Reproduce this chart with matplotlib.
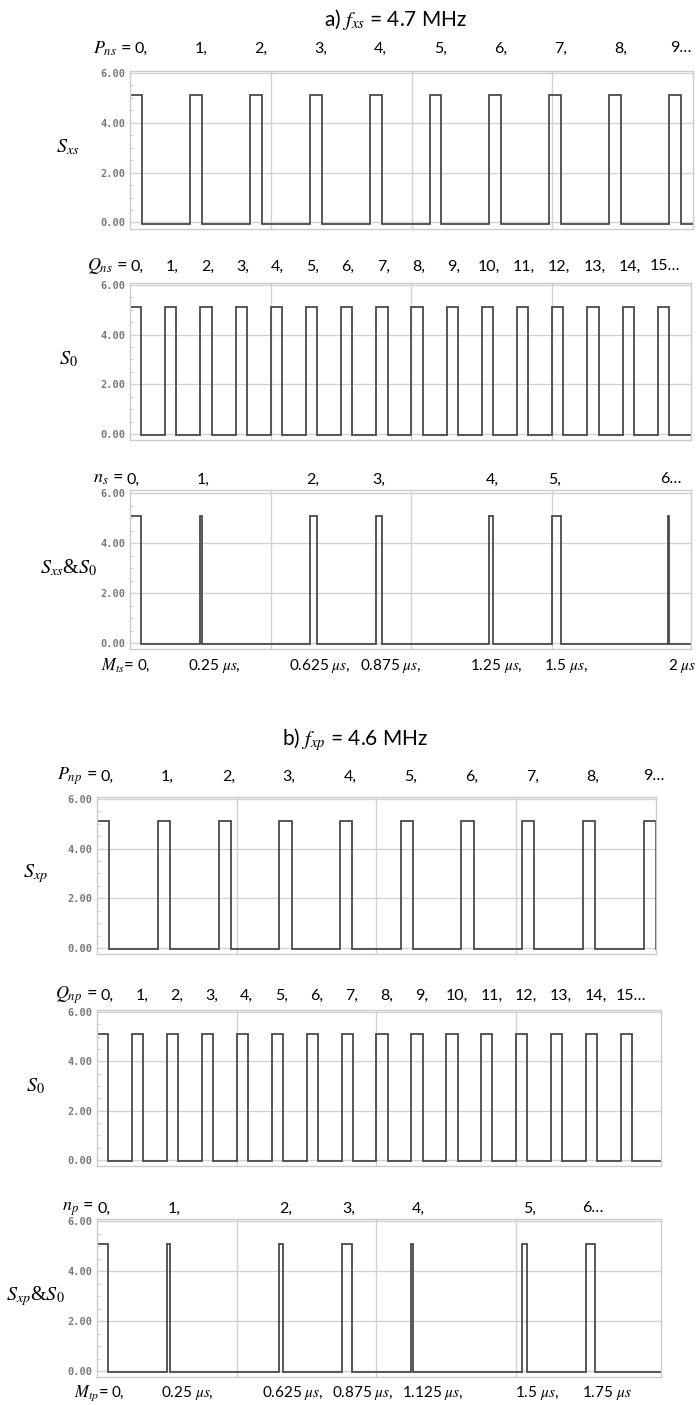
import matplotlib
matplotlib.use('Agg')
import matplotlib.pyplot as plt
from matplotlib.transforms import blended_transform_factory

plt.rcParams['font.family'] = ['Lato', 'DejaVu Sans']
plt.rcParams['mathtext.fontset'] = 'stix'

HIGH = 5.1
LOW = -0.05

# a) f_xs = 4.7 MHz  (edge times in microseconds)
sxs_rise = [0.0, 0.213, 0.426, 0.638, 0.851, 1.064, 1.277, 1.489, 1.702, 1.915]
sxs_fall = [0.043, 0.255, 0.468, 0.681, 0.894, 1.106, 1.319, 1.532, 1.745, 1.957]
# S0 clock, same in a) and b)
s0_rise = [0.0, 0.125, 0.25, 0.375, 0.5, 0.625, 0.75, 0.875,
           1.0, 1.125, 1.25, 1.375, 1.5, 1.625, 1.75, 1.875]
s0_fall = [0.04, 0.165, 0.29, 0.415, 0.54, 0.665, 0.79, 0.915,
           1.04, 1.165, 1.29, 1.415, 1.54, 1.665, 1.79, 1.915]
ands_rise = [0.0, 0.25, 0.638, 0.875, 1.277, 1.5, 1.912]
ands_fall = [0.04, 0.255, 0.665, 0.894, 1.29, 1.532, 1.916]
mts_vals = [0, 0.25, 0.625, 0.875, 1.25, 1.5, 2.0]

# b) f_xp = 4.6 MHz
sxp_rise = [0.0, 0.217, 0.435, 0.652, 0.870, 1.087, 1.304, 1.522, 1.739, 1.957]
sxp_fall = [0.043, 0.261, 0.478, 0.696, 0.913, 1.130, 1.348, 1.565, 1.783, 2.0]
andp_rise = [0.0, 0.25, 0.652, 0.875, 1.125, 1.522, 1.75]
andp_fall = [0.04, 0.261, 0.665, 0.913, 1.130, 1.54, 1.783]
mtp_vals = [0, 0.25, 0.625, 0.875, 1.125, 1.5, 1.75]

p_labels = ['0,', '1,', '2,', '3,', '4,', '5,', '6,', '7,', '8,', '9…']
q_labels = ['0,', '1,', '2,', '3,', '4,', '5,', '6,', '7,', '8,', '9,',
            '10,', '11,', '12,', '13,', '14,', '15…']
n_labels = ['0,', '1,', '2,', '3,', '4,', '5,', '6…']
mts_labels = ['0,', r'0.25 $\mu s$,', r'0.625 $\mu s$,', r'0.875 $\mu s$,',
              r'1.25 $\mu s$,', r'1.5 $\mu s$,', r'2 $\mu s$']
mtp_labels = ['0,', r'0.25 $\mu s$,', r'0.625 $\mu s$,', r'0.875 $\mu s$,',
              r'1.125 $\mu s$,', r'1.5 $\mu s$,', r'1.75 $\mu s$']
yticks = [0, 2, 4, 6]

W, H = 698, 1405
LINE = '#4a4a4a'
GRID = '#d2d2d2'
LABEL_FS = 11.5


def trace(rise, fall, tend):
    x, y = [0.0], [LOW]
    for r, f in zip(rise, fall):
        x += [r, r, f, f]
        y += [LOW, HIGH, HIGH, LOW]
    x.append(tend)
    y.append(LOW)
    return x, y


def panel(box, xmax, rise, fall, ylab):
    left, top, right, bottom = box
    ax = fig.add_axes([left / W, 1 - bottom / H, (right - left) / W, (bottom - top) / H])
    ax.set_xlim(0, xmax)
    ax.set_ylim(-0.25, 6.1)
    ax.set_xticks([0.5, 1.0, 1.5])
    ax.set_yticks(yticks, labels=['%.2f' % v for v in yticks],
                  fontfamily='DejaVu Sans Mono', fontweight='bold', fontsize=7.5, color='#7a7a7a')
    ax.tick_params(axis='x', length=0, labelbottom=False)
    ax.tick_params(axis='y', length=0, pad=3)
    ax.set_yticks([v / 2 for v in range(0, 12)], minor=True)
    ax.tick_params(axis='y', which='minor', direction='in', length=2, color='#c0c0c0')
    ax.grid(True, color=GRID, lw=1)
    ax.set_axisbelow(True)
    for s in ax.spines.values():
        s.set_color('#cccccc')
        s.set_linewidth(1)
    x, y = trace(rise, fall, xmax)
    ax.plot(x, y, color=LINE, lw=1.3, solid_joinstyle='miter')
    tr = blended_transform_factory(ax.transAxes, ax.transData)
    ax.text(-0.11, 3.0, ylab, transform=tr, ha='center', va='center', fontsize=14.5,
            family=['Liberation Serif', 'DejaVu Serif'])
    return ax


def row_labels(ax, times, labels, prefix, off, dy, below=False, fs=LABEL_FS, pfs=13):
    tr = blended_transform_factory(ax.transData, ax.transAxes)
    yy = 0 if below else 1
    sign = -1 if below else 1
    for t, lab in zip(times, labels):
        ax.annotate(lab, xy=(t + off, yy), xycoords=tr, xytext=(0, sign * dy * 0.72),
                    textcoords='offset points', ha='center', va='center', fontsize=fs)
    ax.annotate(prefix, xy=(times[0] + off, yy), xycoords=tr, xytext=(-7, sign * dy * 0.72),
                textcoords='offset points', ha='right', va='center', fontsize=pfs)


fig = plt.figure(figsize=(W / 100, H / 100), dpi=100)

fig.text(396 / W, 1 - 20 / H, r'a) $f_{xs}$ = 4.7 MHz', ha='center', va='center', fontsize=15)
a1 = panel((130, 70.5, 693, 228.7), 2.0, sxs_rise, sxs_fall, r'$S_{xs}$')
row_labels(a1, sxs_rise, p_labels, r'$P_{ns}$ =', 0.04, 22)
a2 = panel((130, 282.5, 691, 440.2), 1.993, s0_rise, s0_fall, r'$S_0$')
row_labels(a2, s0_rise, q_labels, r'$Q_{ns}$ =', 0.025, 16)
a3 = panel((130, 490.5, 691, 649.3), 1.993, ands_rise, ands_fall, r'$S_{xs}$&$S_0$')
row_labels(a3, ands_rise, n_labels, r'$n_s$ =', 0.01, 11)
row_labels(a3, [min(v, t) for v, t in zip(mts_vals, ands_rise)], mts_labels,
           r'$M_{ts}$=', 0.05, 17, below=True, fs=11, pfs=12)

fig.text(355 / W, 1 - 740 / H, r'b) $f_{xp}$ = 4.6 MHz', ha='center', va='center', fontsize=15)
b1 = panel((97, 796.5, 656, 954.2), 2.0, sxp_rise, sxp_fall, r'$S_{xp}$')
row_labels(b1, sxp_rise, p_labels, r'$P_{np}$ =', 0.035, 20)
b2 = panel((97, 1009.5, 661, 1166.2), 2.018, s0_rise, s0_fall, r'$S_0$')
row_labels(b2, s0_rise, q_labels, r'$Q_{np}$ =', 0.036, 14)
b3 = panel((97, 1218.5, 661, 1377.3), 2.018, andp_rise, andp_fall, r'$S_{xp}$&$S_0$')
row_labels(b3, andp_rise, n_labels, r'$n_p$ =', 0.025, 10)
row_labels(b3, [min(v, t) for v, t in zip(mtp_vals, andp_rise)], mtp_labels,
           r'$M_{tp}$=', 0.075, 16, below=True, fs=11, pfs=12)

fig.savefig('out.png', dpi=100)
